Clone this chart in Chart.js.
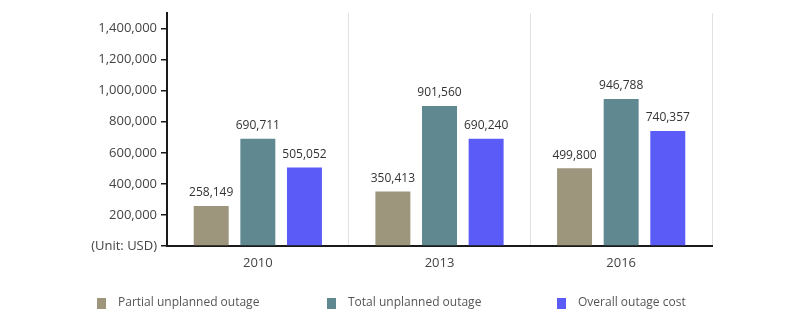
<!DOCTYPE html>
<html>
<head>
<meta charset="utf-8">
<script src="https://cdn.jsdelivr.net/npm/chart.js@4/dist/chart.umd.min.js"></script>
<style>
  html, body { margin: 0; padding: 0; background: #ffffff; }
  #wrap { width: 800px; height: 331px; position: relative; }
</style>
</head>
<body>
<div id="wrap"><canvas id="c"></canvas></div>
<script>
// Outage cost by survey year (USD)
const years = ['2010', '2013', '2016'];
const partialOutage = [258149, 350413, 499800];
const totalOutage = [690711, 901560, 946788];
const overallCost = [505052, 690240, 740357];
const seriesNames = ['Partial unplanned outage', 'Total unplanned outage', 'Overall outage cost'];
const seriesColors = ['#9d967d', '#5f8891', '#5b5bf7'];
const yTickValues = [0, 200000, 400000, 600000, 800000, 1000000, 1200000, 1400000];
const zeroTickLabel = '(Unit: USD)';

const FONT = "'Open Sans', 'Noto Sans', sans-serif";
const fmt = v => v.toLocaleString('en-US');

// value labels above each bar
const valueLabels = {
  id: 'valueLabels',
  afterDatasetsDraw(chart) {
    const ctx = chart.ctx;
    ctx.save();
    ctx.font = '12px ' + FONT;
    ctx.fillStyle = '#333333';
    ctx.textAlign = 'center';
    ctx.textBaseline = 'bottom';
    chart.data.datasets.forEach((ds, i) => {
      chart.getDatasetMeta(i).data.forEach((bar, j) => {
        ctx.fillText(fmt(ds.data[j]), bar.x, bar.y - 7);
      });
    });
    ctx.restore();
  }
};

// legend laid out in evenly spaced columns under the plot
const columnLegend = {
  id: 'columnLegend',
  afterDraw(chart) {
    const ctx = chart.ctx;
    const x0 = 97, step = 230, y = 303;
    ctx.save();
    ctx.font = '12px ' + FONT;
    ctx.textBaseline = 'middle';
    ctx.textAlign = 'left';
    chart.data.datasets.forEach((ds, i) => {
      const x = x0 + i * step;
      ctx.fillStyle = ds.backgroundColor;
      ctx.fillRect(x, y - 5, 9, 11);
      ctx.fillStyle = '#555555';
      ctx.fillText(ds.label, x + 21, y);
    });
    ctx.restore();
  }
};

const datasets = [partialOutage, totalOutage, overallCost].map((d, i) => ({
  label: seriesNames[i],
  data: d,
  backgroundColor: seriesColors[i],
  borderWidth: 0,
  categoryPercentage: 0.77,
  barPercentage: 0.75
}));

new Chart(document.getElementById('c'), {
  type: 'bar',
  data: { labels: years, datasets },
  options: {
    responsive: true,
    maintainAspectRatio: false,
    animation: false,
    layout: { padding: { top: 13, right: 88, left: 0, bottom: 0 } },
    plugins: {
      legend: { display: false },
      tooltip: { enabled: false }
    },
    scales: {
      x: {
        afterFit(scale) { scale.height = 85; },
        grid: {
          offset: true,
          drawOnChartArea: true,
          drawTicks: false,
          color: '#e2e2e2',
          lineWidth: 1
        },
        border: { display: true, color: '#1a1a1a', width: 2 },
        ticks: {
          padding: 9,
          color: '#444444',
          font: { family: FONT, size: 13 }
        }
      },
      y: {
        min: 0,
        max: 1500000,
        afterFit(scale) { scale.width = 167; },
        afterBuildTicks(scale) {
          scale.ticks = yTickValues.map(v => ({ value: v }));
        },
        grid: {
          drawOnChartArea: false,
          drawTicks: true,
          tickLength: 6,
          color: '#1a1a1a',
          lineWidth: 1.5
        },
        border: { display: true, color: '#1a1a1a', width: 2 },
        ticks: {
          padding: 4,
          color: '#444444',
          font: { family: FONT, size: 13 },
          callback: v => v === 0 ? zeroTickLabel : fmt(v)
        }
      }
    }
  },
  plugins: [valueLabels, columnLegend]
});
</script>
</body>
</html>
